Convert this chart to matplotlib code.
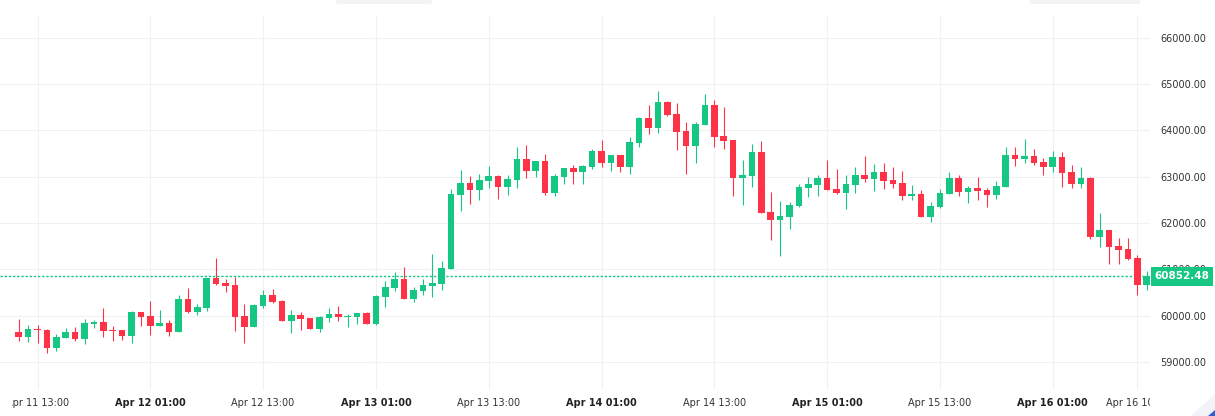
import matplotlib
matplotlib.use('Agg')
import matplotlib.pyplot as plt
import matplotlib.dates as mdates
import matplotlib.transforms as mtransforms
from matplotlib.patches import Rectangle, FancyBboxPatch, Polygon
import pandas as pd

# hourly candles, Apr 11 11:00 -> Apr 16 11:00
start = '2024-04-11 11:00'
opens = [59643, 59543, 59708, 59690, 59305, 59521, 59643, 59499, 59824, 59860,
         59680, 59687, 59564, 60076, 59989, 59780, 59838, 59651, 60356, 60076,
         60162, 60810, 60702, 60659, 59989, 59745, 60212, 60443, 60313, 59888,
         60011, 59946, 59716, 59953, 60032, 59975, 59975, 60054, 59824, 60407,
         60601, 60788, 60364, 60536, 60644, 60688, 61012, 62610, 62862, 62718,
         62913, 63013, 62783, 62934, 63380, 63128, 63337, 62653, 62999, 63186,
         63100, 63208, 63553, 63294, 63467, 63208, 63733, 64266, 64057, 64612,
         64352, 63985, 63668, 64122, 64547, 63877, 63791, 62977, 63013, 63532,
         62236, 62070, 62135, 62373, 62761, 62826, 62970, 62733, 62653, 62826,
         63035, 62956, 63100, 62927, 62862, 62588, 62624, 62135, 62344, 62632,
         62970, 62675, 62754, 62711, 62610, 62783, 63467, 63388, 63445, 63316,
         63215, 63424, 63100, 62848, 62970, 61703, 61847, 61501, 61436, 61242,
         60666]
highs = [59924, 59795, 59795, 59708, 59600, 59730, 59752, 59924, 59903, 60162,
         59773, 59687, 60097, 60076, 60313, 60119, 59903, 60443, 60594, 60248,
         60810, 61242, 60788, 60839, 60248, 60248, 60551, 60572, 60335, 60119,
         60076, 59946, 59982, 60162, 60205, 60032, 60054, 60076, 60443, 60745,
         60940, 61048, 60616, 60788, 61328, 61177, 62732, 63143, 63013, 63056,
         63230, 63035, 63035, 63640, 63683, 63337, 63488, 63056, 63186, 63251,
         63251, 63597, 63791, 63467, 63467, 63855, 64287, 64547, 64849, 64633,
         64590, 64180, 64180, 64784, 64655, 64504, 63791, 63359, 63704, 63769,
         62668, 62473, 62452, 62840, 62992, 63035, 63359, 63164, 63035, 63208,
         63445, 63272, 63294, 63208, 63121, 62819, 62711, 62452, 62732, 63100,
         63035, 62797, 62992, 62761, 62905, 63640, 63640, 63812, 63596, 63402,
         63553, 63532, 63251, 63208, 62992, 62214, 61847, 61674, 61674, 61307,
         60961]
lows = [59456, 59435, 59413, 59197, 59240, 59521, 59456, 59391, 59737, 59543,
        59456, 59478, 59413, 59780, 59586, 59780, 59564, 59651, 60054, 60011,
        60105, 60666, 60515, 59673, 59413, 59745, 60162, 60277, 59888, 59629,
        59694, 59716, 59651, 59867, 59888, 59759, 59824, 59824, 59802, 60191,
        60536, 60364, 60299, 60450, 60407, 60558, 61012, 62264, 62415, 62502,
        62761, 62524, 62603, 62761, 62977, 62999, 62610, 62589, 62848, 62848,
        62848, 63165, 63208, 63121, 63100, 63056, 63647, 63928, 63949, 64316,
        63575, 63056, 63301, 64122, 63647, 63604, 62589, 62394, 62783, 62221,
        61638, 61292, 61876, 62351, 62567, 62588, 62718, 62632, 62308, 62653,
        62891, 62696, 62740, 62761, 62502, 62502, 62135, 62027, 62329, 62632,
        62588, 62437, 62502, 62351, 62524, 62783, 63236, 63301, 63258, 63042,
        63107, 62783, 62761, 62761, 61660, 61487, 61120, 61120, 61206, 60450,
        60558]
closes = [59543, 59708, 59687, 59305, 59536, 59643, 59492, 59838, 59860, 59672,
          59670, 59564, 60076, 59975, 59780, 59838, 59651, 60356, 60076, 60184,
          60810, 60687, 60644, 59975, 59759, 60227, 60443, 60299, 59888, 60011,
          59932, 59716, 59960, 60032, 59975, 59989, 60054, 59824, 60421, 60616,
          60788, 60364, 60551, 60659, 60702, 61026, 62625, 62862, 62718, 62927,
          63013, 62783, 62949, 63380, 63128, 63337, 62653, 63013, 63186, 63100,
          63229, 63553, 63294, 63467, 63208, 63747, 64266, 64057, 64612, 64338,
          63971, 63668, 64136, 64547, 63863, 63776, 62977, 63035, 63532, 62221,
          62070, 62149, 62387, 62776, 62841, 62970, 62718, 62653, 62840, 63035,
          62948, 63100, 62912, 62848, 62588, 62624, 62135, 62365, 62646, 62970,
          62675, 62754, 62696, 62610, 62797, 63467, 63388, 63445, 63301, 63215,
          63424, 63085, 62848, 62970, 61703, 61847, 61487, 61422, 61228, 60666,
          60852.48]
last_price = 60852.48

tick_times = ['2024-04-11 13:00', '2024-04-12 01:00', '2024-04-12 13:00',
              '2024-04-13 01:00', '2024-04-13 13:00', '2024-04-14 01:00',
              '2024-04-14 13:00', '2024-04-15 01:00', '2024-04-15 13:00',
              '2024-04-16 01:00', '2024-04-16 10:00']
tick_labels = ['Apr 11 13:00', 'Apr 12 01:00', 'Apr 12 13:00', 'Apr 13 01:00',
               'Apr 13 13:00', 'Apr 14 01:00', 'Apr 14 13:00', 'Apr 15 01:00',
               'Apr 15 13:00', 'Apr 16 01:00', 'Apr 16 10:00']
price_ticks = [59000, 60000, 61000, 62000, 63000, 64000, 65000, 66000]

GREEN = '#16c784'
RED = '#ff3347'
GRID = '#f0f1f5'

W, H = 1215, 416
fig = plt.figure(figsize=(W / 100, H / 100), dpi=100)
fig.patch.set_facecolor('white')
ax = fig.add_axes([0, 26 / H, 1150 / W, 375 / H])

times = pd.date_range(start, periods=len(opens), freq='h')
x = mdates.date2num(times)
hr = 1 / 24

colors = [GREEN if c >= o else RED for o, c in zip(opens, closes)]
bottoms = [min(o, c) for o, c in zip(opens, closes)]
heights = [max(abs(c - o), 20) for o, c in zip(opens, closes)]

ax.axhline(last_price, color=GREEN, lw=1.0, dashes=(1.7, 1.3), zorder=1.8)
ax.vlines(x, lows, highs, colors=colors, lw=0.8, zorder=2)
ax.bar(x, heights, width=0.71 * hr, bottom=bottoms, color=colors,
       linewidth=0, zorder=3)

ax.set_xlim(x[0] - 1.99 * hr, x[0] + 120.35 * hr)
ax.set_ylim(58390.8, 66490.8)

for s in ax.spines.values():
    s.set_visible(False)
ax.grid(True, color=GRID, lw=0.75)
ax.set_axisbelow(True)

ax.yaxis.tick_right()
ax.set_yticks(price_ticks)
ax.set_yticklabels([f'{v:.2f}' for v in price_ticks])
ax.set_xticks(mdates.date2num(pd.to_datetime(tick_times)))
ax.set_xticklabels(tick_labels)
ax.tick_params(axis='both', length=0, labelsize=7, colors='#333333')
ax.tick_params(axis='y', pad=7.2)
ax.tick_params(axis='x', pad=6)

# time labels are cut off at both ends of the time scale
clip = mtransforms.TransformedBbox(
    mtransforms.Bbox.from_extents(12 / W, 0, 1150 / W, 1), fig.transFigure)
for lbl in ax.get_xticklabels():
    if '01:00' in lbl.get_text():
        lbl.set_fontweight('bold')
        lbl.set_color('#222222')
    lbl.set_clip_box(clip)
    lbl.set_clip_on(True)

# last price tag on the price scale
trans = mtransforms.blended_transform_factory(ax.transAxes, ax.transData)
px_price = (66490.8 - 58390.8) / 375
ax.add_patch(Rectangle((1 + 1 / 1150, last_price - 9.5 * px_price), 62 / 1150,
                       19 * px_price, transform=trans, facecolor=GREEN,
                       edgecolor='none', clip_on=False, zorder=5))
ax.text(1 + 32 / 1150, last_price, f'{last_price:.2f}', transform=trans,
        ha='center', va='center', fontsize=7.5, fontweight='bold',
        color='white', clip_on=False, zorder=6)

# faint toolbar edges at the top and corner badge at bottom right
for x0, w in [(336, 96), (1030, 110)]:
    fig.patches.append(FancyBboxPatch((x0 / W, 1 - 4 / H), w / W, 10 / H,
                                      boxstyle='round,pad=0,rounding_size=0.004',
                                      transform=fig.transFigure,
                                      facecolor='#f3f3f6', edgecolor='none'))
fig.patches.append(Polygon([(1, 22 / H), (1, 0), (1 - 24 / W, 0)],
                           closed=True, transform=fig.transFigure,
                           facecolor='#f1f3f8', edgecolor='none'))
fig.patches.append(Polygon([(1, 6 / H), (1, 0), (1 - 7 / W, 0)],
                           closed=True, transform=fig.transFigure,
                           facecolor='#2a62d8', edgecolor='none'))

fig.savefig('out.png', dpi=100, facecolor='white')
